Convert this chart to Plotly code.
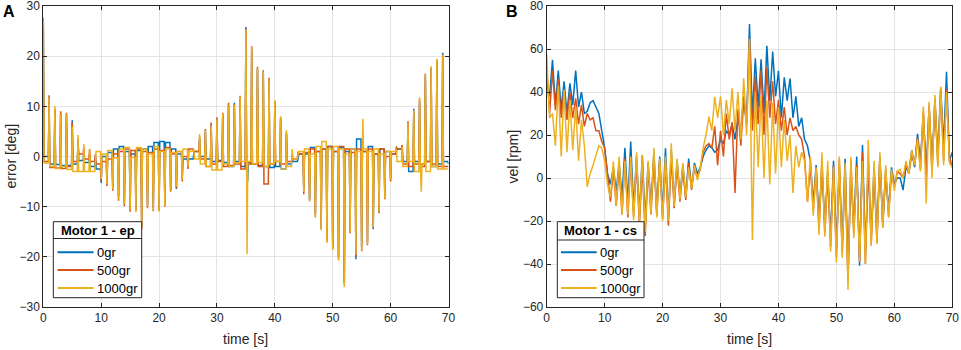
import plotly.graph_objects as go

# ---------------- DATA ----------------
seconds = list(range(71))
series_names = ["0gr", "500gr", "1000gr"]
colors = ["#0072BD", "#D95319", "#EDB120"]
legend_titles = ["Motor 1 - ep", "Motor 1 - cs"]
x_title = "time [s]"
y_titles = ["error [deg]", "vel [rpm]"]

# Panel A (error [deg]) : spike value at each second, hold level after the spike
A_blue_pk = [26.0, 11.0, 9.2, 8.6, 8.3, 7.2, 3.5, 1.0, 0.5, 0.0, -5.3, -5.0, -6.3, -8.0, -9.3, -10.5, -10.6, -13.8, -9.8, -10.3,
             -10.4, -9.5, -6.7, -6.5, -4.2, -1.5, 0.5, 3.5, 5.0, 6.5, 7.5, 8.3, 10.2, 10.7, 11.5, 25.8, 21.5, 17.4, 16.8, 15.3,
             10.8, 7.8, 4.8, 0.0, -0.5, -6.5, -8.5, -11.5, -14.0, -16.5, -18.0, -20.0, -25.0, -14.5, -20.5, -18.0, -17.0, -14.5, -11.0, -8.0,
             -4.5, 1.0, 2.0, 6.5, 9.5, 11.0, 16.0, 17.5, 19.0, 20.7, -1.5]
A_blue_bs = [0.0, -1.5, -1.6, -1.8, -1.8, -1.5, -0.8, -1.2, -2.0, -2.5, 0.0, 0.8, 1.5, 2.0, 1.0, 0.5, 1.2, 1.5, 2.0, 2.8,
             3.0, 2.8, 1.5, 0.5, -0.5, -0.5, 1.0, 0.0, -0.5, -1.0, -0.8, -1.2, -2.0, -1.0, -2.0, -1.2, -1.5, -1.8, -2.0, -2.2,
             -2.0, -2.5, -1.5, -1.0, 0.5, 0.5, 1.8, 1.0, 1.5, 2.0, 1.0, 1.8, 1.0, 1.5, 3.5, 1.0, 2.0, 0.5, 1.5, 1.0,
             0.5, 1.5, -1.0, -3.0, -1.0, -1.5, -1.0, -2.0, -1.5, -1.0]
A_red_pk = [27.7, 12.2, 9.5, 9.0, 8.7, 6.8, 3.0, 2.0, 1.5, 0.5, -5.0, -5.9, -6.8, -8.8, -9.9, -11.0, -10.8, -14.5, -10.3, -10.9,
            -10.8, -10.0, -7.0, -6.3, -5.0, -2.5, 1.0, 4.0, 5.5, 6.8, 7.8, 8.7, 10.7, 10.4, 12.1, 25.5, 22.0, 17.9, 17.2, 15.7,
            11.0, 7.5, 4.5, 0.5, 1.0, -7.5, -8.8, -12.0, -14.5, -17.0, -18.5, -20.5, -25.5, -15.3, -20.0, -18.9, -17.7, -14.2, -11.3, -8.5,
            -5.0, 2.0, 2.3, 7.0, 9.0, 11.5, 16.5, 17.8, 19.3, 20.0, -2.0]
A_red_bs = [-1.0, -2.2, -2.3, -2.4, -2.0, -1.0, 0.5, -0.5, -1.0, -1.5, -1.0, -0.5, 0.5, 1.0, 1.5, 1.2, 1.5, 1.0, 0.8, 1.5,
            1.2, 1.8, 0.5, 1.0, 0.0, 1.5, 1.0, -0.5, -2.0, -1.5, -1.0, -2.0, -1.8, -1.5, -2.5, -1.5, -1.5, -2.0, -5.5, -1.5,
            -1.0, -1.5, -1.0, -0.5, 0.5, 0.8, 1.5, 1.0, 1.5, 2.0, 1.0, 2.0, 1.5, 0.8, 1.5, 1.0, 1.5, 0.5, 1.5, 0.0,
            0.5, 1.5, -1.5, -2.0, -1.5, -2.0, -1.0, -1.5, -2.0, -2.0]
A_yel_pk = [27.0, 11.5, 10.0, 8.5, 8.4, 6.0, 4.3, 2.5, 1.5, 0.5, -4.5, -5.5, -6.5, -8.5, -9.5, -10.6, -11.1, -14.0, -10.0, -10.7,
            -11.0, -9.8, -6.8, -6.0, -4.6, -2.0, 1.5, 4.5, 5.2, 6.2, 7.4, 8.5, 10.2, 10.3, 11.9, 25.3, 21.8, 17.6, 16.9, 15.4,
            11.2, 8.0, 5.3, 1.5, 0.5, -7.0, -9.0, -12.2, -14.7, -17.2, -18.7, -20.8, -26.0, -15.0, -19.6, -18.7, -17.5, -14.1, -11.0, -8.3,
            -4.6, 1.5, 2.0, 6.7, 9.2, 11.8, 16.3, 18.0, 19.5, 20.3, -2.5]
A_yel_bs = [-1.3, -2.0, -2.4, -2.0, -2.6, -3.0, -3.0, -3.0, -3.0, 1.0, 0.5, 1.2, -0.3, 1.5, 1.8, -0.2, 1.8, 1.5, 0.5, 2.0,
            1.0, 1.5, 0.8, 1.0, 1.5, 1.0, -0.5, -1.5, -2.0, -2.7, -2.7, -1.5, -2.0, -1.3, -1.0, -1.0, -1.5, -1.2, -2.0, -1.5,
            -1.0, -2.5, -2.0, -0.5, 1.0, 1.5, 0.5, 2.0, 3.0, 1.5, 2.0, 1.5, 0.5, 1.5, 1.0, 1.5, 1.0, 1.5, 0.5, 1.0,
            1.0, -1.0, -2.0, -1.0, -3.0, -1.5, -3.0, -2.0, -2.5, -2.5]
# extra single-sample excursions (time [s], value)
A_blue_extra = [(35.3, -5.0)]
A_red_extra = []
A_yel_extra = [(35.2, -19.5), (55.2, 7.5), (65.3, -7.0)]

# Panel B (vel [rpm]) : value at each second and at each half second
B_blue_pk = [45, 55, 50, 45, 44, 50, 40, 31, 36, 30, 14, -3, -6, -9, -12, -14, -17, -20, -13, -15,
             -16, -18, -11, -8, -9, -5, 2, 10, 15, 12, 18, 22, 25, 28, 38, 71.6, 55.7, 55.2, 61.5, 58.8,
             49.9, 46.8, 46.3, 38, 28, 15, -12, -20, -22, -28, -33, -32, -45, -24, -40.8, -35, -27, -27, -21, -15,
             -3, 0, 5, 13, 20.5, 30, 33, 36, 42, 49.4, 12]
B_blue_bs = [38, 34, 32, 30, 34, 33, 30, 35, 33, 22, 2, 5, 7, 14, 17, 10, 10.7, 7, 12, 10,
             13.8, 13, 8, 6, 9, 7, 5, 13, 14, 13, 16, 20, 18, 22, 25, 28.5, 33, 30, 36, 38,
             28, 36, 28, 24, 18, 8, 6, 5, 3, 8, 5, 9, 3, 10, 15.3, 8, 5, 10, 2, 5,
             0, -5.6, 3, 5, 8, 2, 5, 10, 15, 8]
B_red_pk = [50, 50, 46, 41, 40, 37, 34, 30, 28, 22, 14, -11, -13, -17, -18.4, -18, -21.9, -27, -17, -17.5,
            -19, -22.2, -14, -11, -10.2, -5.5, 0, 12, 16, 24, 22, 30, 26, 32, 36, 65, 47.4, 50.2, 51.5, 45,
            36.3, 33, 28, 24, 18, -11, -15, -24, -26, -32, -37, -35, -48, -26, -39, -40, -31, -30, -23, -17.5,
            -4, 2, 6, 11, 19, 31, 34, 37, 41, 41.2, 5]
B_red_bs = [30, 31.6, 28, 27, 28, 25, 24, 27, 22, 17, 0, 4, 5, 9, 8, 7, 6, 5, 9, 8,
            7, 10, 6, 4, 7, 5, 4, 15, 14, 6, 10, 18, -7, 15, 25, 22, 25, 20, 28, 25,
            22, 20, 22, 20, 10, 6, 4, 8, 2, 6, 9, 5, 8, 6, 12, 7, 3, 9.9, 4, 2,
            3, 0, 2, 6, 4, 0, 3, 6, 8, 10]
B_yel_pk = [57.5, 30, 43, 41, 36, 33, 27, -4, 6, 15, 8, -9, -12.9, -16.9, -17, -19.5, -20, -25, -16.5, -18.4,
            -20, -20, -13, -10, -9, -5, -1, 14, 28.5, 37.8, 38, 36.3, 41.7, 40, 46.4, 64.5, 40, 38, 36, 35,
            33, 27, 20, 15, 12, -11, -17.5, -26.5, -27.3, -34.3, -39.3, -37.1, -52.1, -28, -39, -39.9, -31.6, -30.7, -23.1, -18.5,
            -6, 4, 8, 13, 18, 33.2, 35.5, 38.6, 42.5, 40, 5]
B_yel_bs = [28, 15, 10, 12, 13, 8, 15, 2, 11, 14, -3, 7.7, 9.9, 8, 10, 12, 10.7, 8, 14, 9,
            10, 16.1, 9, 7, 5, 6, 5, 20, 22, 28, 20, 25, 22, 18, 20, -28.8, 5, 0, -3, 2,
            5, 8, -7, 5, 8, 10, 5, 12, 8, 5, 10, 7, 9.9, 5, 8, 17.7, 8, 12, 6, 4,
            3, 0, 2, 6, 3, -11.8, 0, 5, 6, 7]

x_ticks = [0, 10, 20, 30, 40, 50, 60, 70]
yA_ticks = [-30, -20, -10, 0, 10, 20, 30]
yB_ticks = [-60, -40, -20, 0, 20, 40, 60, 80]


# ---------------- BUILD ----------------
def series_A(pk, bs, extra):
    pts = []
    for k, s in enumerate(seconds):
        pts.append((s, pk[k]))
        if k < len(bs):
            pts.append((s + 0.12, bs[k]))
            pts.append((s + 0.88, bs[k]))
    for te, ve in extra:
        k = int(te)
        pts.append((te, ve))
        pts.append((te + 0.12, bs[k]))
    pts.sort(key=lambda p: p[0])
    return [p[0] for p in pts], [p[1] for p in pts]


def series_B(pk, bs):
    t, v = [], []
    for k, s in enumerate(seconds):
        t.append(s); v.append(pk[k])
        if k < len(bs):
            t.append(s + 0.5); v.append(bs[k])
    return t, v


fig = go.Figure()
A_data = [(A_blue_pk, A_blue_bs, A_blue_extra), (A_red_pk, A_red_bs, A_red_extra), (A_yel_pk, A_yel_bs, A_yel_extra)]
B_data = [(B_blue_pk, B_blue_bs), (B_red_pk, B_red_bs), (B_yel_pk, B_yel_bs)]

LW = 1.5
for i, (pk, bs, ex) in enumerate(A_data):
    t, v = series_A(pk, bs, ex)
    fig.add_trace(go.Scatter(x=t, y=v, mode="lines", name=series_names[i], showlegend=False,
                             line=dict(color=colors[i], width=LW), xaxis="x", yaxis="y"))
for i, (pk, bs) in enumerate(B_data):
    t, v = series_B(pk, bs)
    fig.add_trace(go.Scatter(x=t, y=v, mode="lines", name=series_names[i], showlegend=False,
                             line=dict(color=colors[i], width=LW), xaxis="x2", yaxis="y2"))

FONT = "Liberation Sans, Arial, sans-serif"
axis_common = dict(showgrid=True, gridcolor="#e4e4e4", gridwidth=1, zeroline=False,
                   showline=True, linecolor="#262626", linewidth=1, mirror="allticks",
                   ticks="inside", ticklen=4, tickcolor="#262626", ticklabeloverflow="allow",
                   tickfont=dict(family=FONT, size=12, color="#262626"), automargin=False)

W, H = 961.0, 350.0
def px(x): return x / W
def py(y): return 1 - y / H

XA = [43.3, 448.5]
XB = [546.7, 952.3]
YT, YB = 6.0, 307.0
YDOM = [py(YB), py(YT)]
fig.update_layout(
    width=961, height=350,
    margin=dict(l=0, r=0, t=0, b=0),
    paper_bgcolor="white", plot_bgcolor="white",
    font=dict(family=FONT, color="#262626"),
    showlegend=False,
    xaxis=dict(domain=[px(XA[0]), px(XA[1])], range=[0, 70], tickvals=x_ticks, anchor="y", **axis_common),
    yaxis=dict(domain=YDOM, range=[-30, 30], tickvals=yA_ticks, anchor="x", **axis_common),
    xaxis2=dict(domain=[px(XB[0]), px(XB[1])], range=[0, 70], tickvals=x_ticks, anchor="y2", **axis_common),
    yaxis2=dict(domain=YDOM, range=[-60, 80], tickvals=yB_ticks, anchor="x2", **axis_common),
)

# axis titles
for (x0, x1), ylab_x, ytxt in [(XA, 11, y_titles[0]), (XB, 513, y_titles[1])]:
    fig.add_annotation(text=x_title, xref="paper", yref="paper", x=px((x0 + x1) / 2), y=py(339),
                       xanchor="center", yanchor="middle", showarrow=False,
                       font=dict(family=FONT, size=14, color="#262626"))
    fig.add_annotation(text=ytxt, xref="paper", yref="paper", x=px(ylab_x), y=py((YT + YB) / 2),
                       xanchor="center", yanchor="middle", textangle=-90, showarrow=False,
                       font=dict(family=FONT, size=14, color="#262626"))

# ---- boxed legends (MATLAB style, title row separated by a rule) ----
legend_boxes = [  # left, right, top, bottom, separator y, sample x0, sample x1
    (53.3, 141.7, 221.7, 297.7, 238.5, 57.5, 93.5),
    (557.3, 644.0, 221.7, 297.7, 240.0, 561.0, 596.7),
]
row_y = [252.3, 270.0, 288.0]
for b, (l, r, t, btm, sep, s0, s1) in enumerate(legend_boxes):
    fig.add_shape(type="rect", xref="paper", yref="paper", x0=px(l), x1=px(r), y0=py(btm), y1=py(t),
                  fillcolor="white", line=dict(color="#262626", width=1), layer="above")
    fig.add_shape(type="line", xref="paper", yref="paper", x0=px(l), x1=px(r), y0=py(sep), y1=py(sep),
                  line=dict(color="#262626", width=1), layer="above")
    fig.add_annotation(text="<b>" + legend_titles[b] + "</b>", xref="paper", yref="paper",
                       x=px((l + r) / 2), y=py((t + sep) / 2), xanchor="center", yanchor="middle",
                       showarrow=False, font=dict(family=FONT, size=13, color="#000"))
    for i, name in enumerate(series_names):
        fig.add_shape(type="line", xref="paper", yref="paper", x0=px(s0), x1=px(s1),
                      y0=py(row_y[i]), y1=py(row_y[i]), line=dict(color=colors[i], width=2), layer="above")
        fig.add_annotation(text=name, xref="paper", yref="paper", x=px(s1 + 1.5), y=py(row_y[i]),
                           xanchor="left", yanchor="middle", showarrow=False,
                           font=dict(family=FONT, size=13, color="#000"))

# panel letters
fig.add_annotation(text="<b>A</b>", xref="paper", yref="paper", x=px(9), y=py(12),
                   xanchor="center", yanchor="middle",
                   showarrow=False, font=dict(family=FONT, size=16, color="#000"))
fig.add_annotation(text="<b>B</b>", xref="paper", yref="paper", x=px(512), y=py(12),
                   xanchor="center", yanchor="middle",
                   showarrow=False, font=dict(family=FONT, size=16, color="#000"))

fig.write_html("out.html", config={"displayModeBar": False},
               post_script="document.body.style.margin='0';document.body.style.padding='0';")
